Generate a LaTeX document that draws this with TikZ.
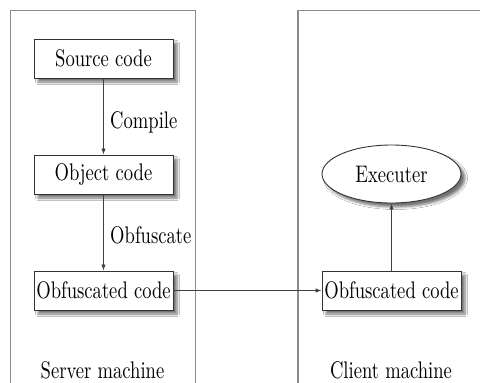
\documentclass[tikz,border=0pt]{standalone}
\usepackage{graphicx}
\usetikzlibrary{arrows.meta,shapes.geometric,shadows.blur}
\newcommand\sqtxt[1]{\scalebox{1.86}[2.4]{#1}}
\tikzset{
  panel/.style={draw=black!45, line width=1.1pt},
  shade box/.style={blur shadow={shadow xshift=4pt, shadow yshift=-4pt, shadow blur radius=2.5pt, shadow opacity=55}},
  codebox/.style={draw=black!80, line width=0.9pt, fill=white, minimum width=139pt, minimum height=39pt, inner sep=0pt, shade box},
  execbox/.style={ellipse, draw=black!80, line width=0.9pt, fill=white, minimum width=139pt, minimum height=58pt, inner sep=0pt, shade box},
  flow/.style={draw=black!75, line width=0.8pt, -{Latex[length=6pt,width=4.5pt]}},
  lbl/.style={inner sep=0pt}
}
\begin{document}
\begin{tikzpicture}[x=1pt,y=-1pt]
\clip (0,0) rectangle (480,383);
\fill[white] (0,0) rectangle (480,383);
\draw[panel] (10.5,400) -- (10.5,10.5) -- (195.5,10.5) -- (195.5,400);
\draw[panel] (298,400) -- (298,10.5) -- (490,10.5);
\node[codebox] (src) at (103.5,58.5) {\sqtxt{Source code}};
\node[codebox] (obj) at (103.5,174.5) {\sqtxt{Object code}};
\node[codebox] (obfS) at (103.5,290.5) {\sqtxt{Obfuscated code}};
\node[codebox] (obfC) at (391.5,290.5) {\sqtxt{Obfuscated code}};
\node[execbox] (exec) at (391.5,174) {\sqtxt{Executer}};
\node[lbl, anchor=base west] (lc) at (110,128) {\sqtxt{Compile}};
\node[lbl, anchor=base west] (lo) at (110,243) {\sqtxt{Obfuscate}};
\node[lbl, anchor=base] (srv) at (102.5,378) {\sqtxt{Server machine}};
\node[lbl, anchor=base] (cli) at (391,378) {\sqtxt{Client machine}};
\draw[flow] (src) -- (obj);
\draw[flow] (obj) -- (obfS);
\draw[flow] (obfS) -- (obfC);
\draw[flow] (obfC) -- (exec);
\end{tikzpicture}
\end{document}
